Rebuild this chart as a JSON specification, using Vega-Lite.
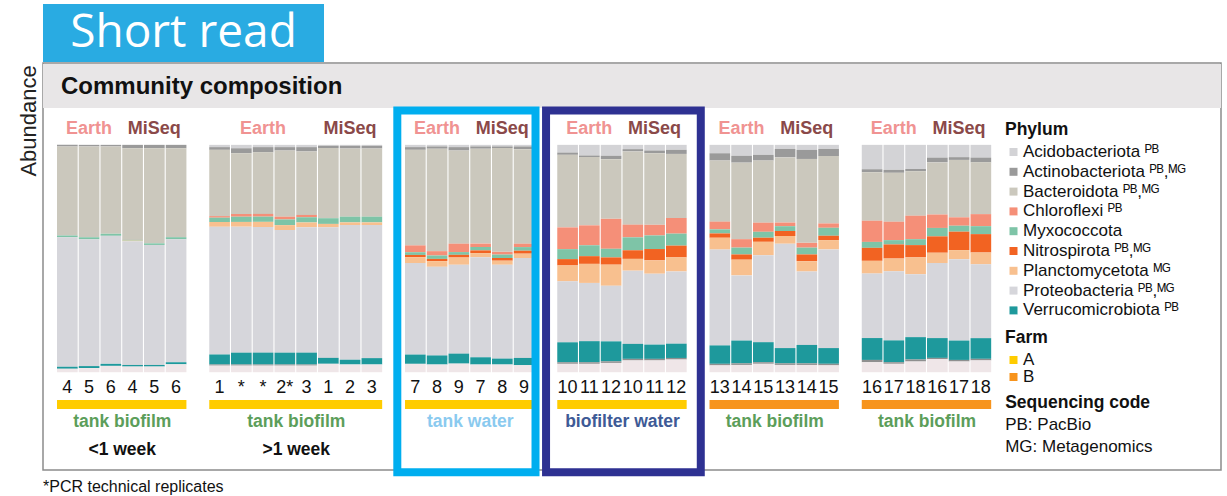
{
  "$schema": "https://vega.github.io/schema/vega-lite/v6.json",
  "padding": {"left": 17, "top": 4, "right": 7, "bottom": 1},
  "bounds": "flush",
  "spacing": 1,
  "config": {
    "font": "Liberation Sans",
    "view": {"stroke": null}
  },
  "datasets": {
    "samples": [
      {"sample": "G1 Earth 4", "group": "G1", "label": "4", "Acidobacteriota": 0, "Actinobacteriota": 0.7, "Bacteroidota": 39.2, "Chloroflexi": 0, "Myxococcota": 0.7, "Nitrospirota": 0, "Planctomycetota": 0, "Proteobacteria": 57.0, "Verrucomicrobiota": 0.9, "other": 0, "unclassified": 1.5},
      {"sample": "G1 Earth 5", "group": "G1", "label": "5", "Acidobacteriota": 0, "Actinobacteriota": 0.7, "Bacteroidota": 39.9, "Chloroflexi": 0, "Myxococcota": 0.9, "Nitrospirota": 0, "Planctomycetota": 0, "Proteobacteria": 55.7, "Verrucomicrobiota": 0.9, "other": 0, "unclassified": 1.8},
      {"sample": "G1 Earth 6", "group": "G1", "label": "6", "Acidobacteriota": 0, "Actinobacteriota": 0.7, "Bacteroidota": 38.5, "Chloroflexi": 0, "Myxococcota": 0.9, "Nitrospirota": 0, "Planctomycetota": 0, "Proteobacteria": 56.4, "Verrucomicrobiota": 0.9, "other": 0, "unclassified": 2.8},
      {"sample": "G1 MiSeq 4", "group": "G1", "label": "4", "Acidobacteriota": 0, "Actinobacteriota": 1.5, "Bacteroidota": 40.4, "Chloroflexi": 0, "Myxococcota": 0.3, "Nitrospirota": 0, "Planctomycetota": 0.3, "Proteobacteria": 54.5, "Verrucomicrobiota": 0.7, "other": 0, "unclassified": 2.5},
      {"sample": "G1 MiSeq 5", "group": "G1", "label": "5", "Acidobacteriota": 0, "Actinobacteriota": 1.5, "Bacteroidota": 41.9, "Chloroflexi": 0, "Myxococcota": 0.7, "Nitrospirota": 0, "Planctomycetota": 0, "Proteobacteria": 52.9, "Verrucomicrobiota": 0.7, "other": 0, "unclassified": 2.5},
      {"sample": "G1 MiSeq 6", "group": "G1", "label": "6", "Acidobacteriota": 0, "Actinobacteriota": 1.5, "Bacteroidota": 39.2, "Chloroflexi": 0, "Myxococcota": 0.9, "Nitrospirota": 0, "Planctomycetota": 0, "Proteobacteria": 54.2, "Verrucomicrobiota": 0.9, "other": 0, "unclassified": 3.5},
      {"sample": "G2 Earth 1", "group": "G2", "label": "1", "Acidobacteriota": 1.0, "Actinobacteriota": 1.2, "Bacteroidota": 29.1, "Chloroflexi": 0.7, "Myxococcota": 1.9, "Nitrospirota": 0, "Planctomycetota": 2.1, "Proteobacteria": 56.1, "Verrucomicrobiota": 4.4, "other": 0.5, "unclassified": 2.9},
      {"sample": "G2 Earth *a", "group": "G2", "label": "*", "Acidobacteriota": 1.5, "Actinobacteriota": 2.2, "Bacteroidota": 26.7, "Chloroflexi": 1.2, "Myxococcota": 2.3, "Nitrospirota": 0, "Planctomycetota": 2.1, "Proteobacteria": 55.4, "Verrucomicrobiota": 5.2, "other": 0.5, "unclassified": 2.9},
      {"sample": "G2 Earth *b", "group": "G2", "label": "*", "Acidobacteriota": 1.0, "Actinobacteriota": 2.3, "Bacteroidota": 27.0, "Chloroflexi": 1.2, "Myxococcota": 2.3, "Nitrospirota": 0, "Planctomycetota": 2.3, "Proteobacteria": 55.1, "Verrucomicrobiota": 5.2, "other": 0.5, "unclassified": 2.9},
      {"sample": "G2 Earth 2*", "group": "G2", "label": "2*", "Acidobacteriota": 1.0, "Actinobacteriota": 1.5, "Bacteroidota": 29.1, "Chloroflexi": 1.2, "Myxococcota": 2.5, "Nitrospirota": 0, "Planctomycetota": 2.2, "Proteobacteria": 53.9, "Verrucomicrobiota": 5.2, "other": 0.5, "unclassified": 2.9},
      {"sample": "G2 Earth 3", "group": "G2", "label": "3", "Acidobacteriota": 1.0, "Actinobacteriota": 1.9, "Bacteroidota": 27.9, "Chloroflexi": 1.0, "Myxococcota": 2.3, "Nitrospirota": 0, "Planctomycetota": 2.1, "Proteobacteria": 55.1, "Verrucomicrobiota": 5.2, "other": 0.5, "unclassified": 2.9},
      {"sample": "G2 MiSeq 1", "group": "G2", "label": "1", "Acidobacteriota": 0.4, "Actinobacteriota": 1.0, "Bacteroidota": 30.8, "Chloroflexi": 0, "Myxococcota": 2.5, "Nitrospirota": 0, "Planctomycetota": 1.5, "Proteobacteria": 57.3, "Verrucomicrobiota": 2.6, "other": 0, "unclassified": 3.7},
      {"sample": "G2 MiSeq 2", "group": "G2", "label": "2", "Acidobacteriota": 0.4, "Actinobacteriota": 1.2, "Bacteroidota": 30.0, "Chloroflexi": 0, "Myxococcota": 2.5, "Nitrospirota": 0, "Planctomycetota": 1.2, "Proteobacteria": 59.2, "Verrucomicrobiota": 2.1, "other": 0, "unclassified": 3.4},
      {"sample": "G2 MiSeq 3", "group": "G2", "label": "3", "Acidobacteriota": 0.4, "Actinobacteriota": 1.2, "Bacteroidota": 30.0, "Chloroflexi": 0, "Myxococcota": 2.5, "Nitrospirota": 0, "Planctomycetota": 1.2, "Proteobacteria": 58.5, "Verrucomicrobiota": 2.8, "other": 0, "unclassified": 3.4},
      {"sample": "G3 Earth 7", "group": "G3", "label": "7", "Acidobacteriota": 1.0, "Actinobacteriota": 1.2, "Bacteroidota": 42.2, "Chloroflexi": 3.0, "Myxococcota": 1.2, "Nitrospirota": 1.0, "Planctomycetota": 2.6, "Proteobacteria": 40.4, "Verrucomicrobiota": 4.1, "other": 0, "unclassified": 3.7},
      {"sample": "G3 Earth 8", "group": "G3", "label": "8", "Acidobacteriota": 0.7, "Actinobacteriota": 1.0, "Bacteroidota": 45.2, "Chloroflexi": 1.9, "Myxococcota": 1.5, "Nitrospirota": 1.0, "Planctomycetota": 2.5, "Proteobacteria": 39.1, "Verrucomicrobiota": 4.0, "other": 0, "unclassified": 3.4},
      {"sample": "G3 Earth 9", "group": "G3", "label": "9", "Acidobacteriota": 1.0, "Actinobacteriota": 1.5, "Bacteroidota": 41.1, "Chloroflexi": 3.7, "Myxococcota": 1.2, "Nitrospirota": 1.2, "Planctomycetota": 3.2, "Proteobacteria": 39.2, "Verrucomicrobiota": 4.4, "other": 0, "unclassified": 3.8},
      {"sample": "G3 MiSeq 7", "group": "G3", "label": "7", "Acidobacteriota": 0.7, "Actinobacteriota": 1.0, "Bacteroidota": 41.9, "Chloroflexi": 1.5, "Myxococcota": 1.5, "Nitrospirota": 1.2, "Planctomycetota": 1.8, "Proteobacteria": 44.2, "Verrucomicrobiota": 3.2, "other": 0, "unclassified": 3.4},
      {"sample": "G3 MiSeq 8", "group": "G3", "label": "8", "Acidobacteriota": 0.7, "Actinobacteriota": 0.7, "Bacteroidota": 45.8, "Chloroflexi": 1.2, "Myxococcota": 1.5, "Nitrospirota": 1.2, "Planctomycetota": 1.8, "Proteobacteria": 41.4, "Verrucomicrobiota": 2.6, "other": 0, "unclassified": 3.4},
      {"sample": "G3 MiSeq 9", "group": "G3", "label": "9", "Acidobacteriota": 0.7, "Actinobacteriota": 1.2, "Bacteroidota": 41.7, "Chloroflexi": 1.5, "Myxococcota": 1.6, "Nitrospirota": 1.3, "Planctomycetota": 1.9, "Proteobacteria": 44.1, "Verrucomicrobiota": 3.2, "other": 0, "unclassified": 3.1},
      {"sample": "G4 Earth 10", "group": "G4", "label": "10", "Acidobacteriota": 3.4, "Actinobacteriota": 1.0, "Bacteroidota": 32.0, "Chloroflexi": 9.6, "Myxococcota": 4.4, "Nitrospirota": 2.8, "Planctomycetota": 7.0, "Proteobacteria": 26.9, "Verrucomicrobiota": 8.8, "other": 0.7, "unclassified": 3.7},
      {"sample": "G4 Earth 11", "group": "G4", "label": "11", "Acidobacteriota": 4.7, "Actinobacteriota": 0.7, "Bacteroidota": 30.1, "Chloroflexi": 8.8, "Myxococcota": 4.8, "Nitrospirota": 3.4, "Planctomycetota": 8.4, "Proteobacteria": 25.7, "Verrucomicrobiota": 9.3, "other": 0.7, "unclassified": 3.7},
      {"sample": "G4 Earth 12", "group": "G4", "label": "12", "Acidobacteriota": 4.8, "Actinobacteriota": 1.5, "Bacteroidota": 26.3, "Chloroflexi": 13.2, "Myxococcota": 3.8, "Nitrospirota": 3.2, "Planctomycetota": 9.3, "Proteobacteria": 24.5, "Verrucomicrobiota": 8.8, "other": 0.7, "unclassified": 4.1},
      {"sample": "G4 MiSeq 10", "group": "G4", "label": "10", "Acidobacteriota": 1.9, "Actinobacteriota": 1.0, "Bacteroidota": 32.3, "Chloroflexi": 5.6, "Myxococcota": 5.7, "Nitrospirota": 3.8, "Planctomycetota": 5.2, "Proteobacteria": 32.3, "Verrucomicrobiota": 6.6, "other": 0.7, "unclassified": 5.2},
      {"sample": "G4 MiSeq 11", "group": "G4", "label": "11", "Acidobacteriota": 2.5, "Actinobacteriota": 1.2, "Bacteroidota": 31.6, "Chloroflexi": 4.7, "Myxococcota": 6.0, "Nitrospirota": 5.0, "Planctomycetota": 5.9, "Proteobacteria": 31.3, "Verrucomicrobiota": 6.3, "other": 0.7, "unclassified": 5.2},
      {"sample": "G4 MiSeq 12", "group": "G4", "label": "12", "Acidobacteriota": 2.2, "Actinobacteriota": 1.8, "Bacteroidota": 28.3, "Chloroflexi": 6.9, "Myxococcota": 5.3, "Nitrospirota": 5.2, "Planctomycetota": 6.2, "Proteobacteria": 31.9, "Verrucomicrobiota": 6.3, "other": 0.7, "unclassified": 5.6},
      {"sample": "G5 Earth 13", "group": "G5", "label": "13", "Acidobacteriota": 3.7, "Actinobacteriota": 3.2, "Bacteroidota": 26.9, "Chloroflexi": 3.4, "Myxococcota": 1.8, "Nitrospirota": 1.9, "Planctomycetota": 5.2, "Proteobacteria": 42.2, "Verrucomicrobiota": 8.1, "other": 0.7, "unclassified": 3.0},
      {"sample": "G5 Earth 14", "group": "G5", "label": "14", "Acidobacteriota": 4.8, "Actinobacteriota": 3.0, "Bacteroidota": 33.6, "Chloroflexi": 3.7, "Myxococcota": 3.0, "Nitrospirota": 2.3, "Planctomycetota": 6.9, "Proteobacteria": 28.6, "Verrucomicrobiota": 10.0, "other": 0.7, "unclassified": 3.2},
      {"sample": "G5 Earth 15", "group": "G5", "label": "15", "Acidobacteriota": 4.4, "Actinobacteriota": 2.5, "Bacteroidota": 27.3, "Chloroflexi": 4.0, "Myxococcota": 2.6, "Nitrospirota": 1.8, "Planctomycetota": 5.9, "Proteobacteria": 38.2, "Verrucomicrobiota": 8.8, "other": 0.7, "unclassified": 3.7},
      {"sample": "G5 MiSeq 13", "group": "G5", "label": "13", "Acidobacteriota": 1.8, "Actinobacteriota": 3.7, "Bacteroidota": 28.6, "Chloroflexi": 1.6, "Myxococcota": 2.1, "Nitrospirota": 2.2, "Planctomycetota": 3.4, "Proteobacteria": 45.8, "Verrucomicrobiota": 6.7, "other": 0.7, "unclassified": 3.2},
      {"sample": "G5 MiSeq 14", "group": "G5", "label": "14", "Acidobacteriota": 2.2, "Actinobacteriota": 4.0, "Bacteroidota": 36.9, "Chloroflexi": 2.1, "Myxococcota": 3.0, "Nitrospirota": 3.0, "Planctomycetota": 4.5, "Proteobacteria": 32.3, "Verrucomicrobiota": 8.1, "other": 0.7, "unclassified": 3.2},
      {"sample": "G5 MiSeq 15", "group": "G5", "label": "15", "Acidobacteriota": 1.8, "Actinobacteriota": 3.1, "Bacteroidota": 29.6, "Chloroflexi": 1.9, "Myxococcota": 3.5, "Nitrospirota": 1.9, "Planctomycetota": 4.1, "Proteobacteria": 43.3, "Verrucomicrobiota": 6.9, "other": 0.7, "unclassified": 3.0},
      {"sample": "G6 Earth 16", "group": "G6", "label": "16", "Acidobacteriota": 10.7, "Actinobacteriota": 1.3, "Bacteroidota": 21.3, "Chloroflexi": 9.3, "Myxococcota": 2.6, "Nitrospirota": 5.7, "Planctomycetota": 5.6, "Proteobacteria": 28.3, "Verrucomicrobiota": 9.6, "other": 1.0, "unclassified": 4.4},
      {"sample": "G6 Earth 17", "group": "G6", "label": "17", "Acidobacteriota": 11.0, "Actinobacteriota": 1.3, "Bacteroidota": 21.5, "Chloroflexi": 8.1, "Myxococcota": 1.9, "Nitrospirota": 6.2, "Planctomycetota": 5.6, "Proteobacteria": 30.4, "Verrucomicrobiota": 9.6, "other": 0.7, "unclassified": 3.7},
      {"sample": "G6 Earth 18", "group": "G6", "label": "18", "Acidobacteriota": 10.6, "Actinobacteriota": 1.0, "Bacteroidota": 19.5, "Chloroflexi": 10.3, "Myxococcota": 2.6, "Nitrospirota": 5.4, "Planctomycetota": 7.4, "Proteobacteria": 27.6, "Verrucomicrobiota": 9.8, "other": 0.9, "unclassified": 4.7},
      {"sample": "G6 MiSeq 16", "group": "G6", "label": "16", "Acidobacteriota": 5.6, "Actinobacteriota": 2.1, "Bacteroidota": 22.9, "Chloroflexi": 5.9, "Myxococcota": 3.7, "Nitrospirota": 7.2, "Planctomycetota": 4.5, "Proteobacteria": 33.0, "Verrucomicrobiota": 8.7, "other": 0.6, "unclassified": 5.7},
      {"sample": "G6 MiSeq 17", "group": "G6", "label": "17", "Acidobacteriota": 5.4, "Actinobacteriota": 1.2, "Bacteroidota": 25.2, "Chloroflexi": 3.7, "Myxococcota": 2.6, "Nitrospirota": 8.1, "Planctomycetota": 4.0, "Proteobacteria": 35.7, "Verrucomicrobiota": 8.5, "other": 0.7, "unclassified": 4.7},
      {"sample": "G6 MiSeq 18", "group": "G6", "label": "18", "Acidobacteriota": 5.6, "Actinobacteriota": 2.1, "Bacteroidota": 22.8, "Chloroflexi": 5.3, "Myxococcota": 3.5, "Nitrospirota": 8.1, "Planctomycetota": 5.2, "Proteobacteria": 32.5, "Verrucomicrobiota": 9.1, "other": 0.7, "unclassified": 5.2}
    ],
    "groups": [
      {"group": "G1", "farm": "A", "habitat": "tank biofilm", "age": "<1 week", "first": "G1 Earth 4", "last": "G1 MiSeq 6", "mid": "G1 MiSeq 4"},
      {"group": "G2", "farm": "A", "habitat": "tank biofilm", "age": ">1 week", "first": "G2 Earth 1", "last": "G2 MiSeq 3", "mid": "G2 Earth 3"},
      {"group": "G3", "farm": "A", "habitat": "tank water", "age": null, "first": "G3 Earth 7", "last": "G3 MiSeq 9", "mid": "G3 MiSeq 7"},
      {"group": "G4", "farm": "A", "habitat": "biofilter water", "age": null, "first": "G4 Earth 10", "last": "G4 MiSeq 12", "mid": "G4 MiSeq 10"},
      {"group": "G5", "farm": "B", "habitat": "tank biofilm", "age": null, "first": "G5 Earth 13", "last": "G5 MiSeq 15", "mid": "G5 MiSeq 13"},
      {"group": "G6", "farm": "B", "habitat": "tank biofilm", "age": null, "first": "G6 Earth 16", "last": "G6 MiSeq 18", "mid": "G6 MiSeq 16"}
    ],
    "headers": [
      {"group": "G1", "method": "Earth", "at": "G1 Earth 5"},
      {"group": "G1", "method": "MiSeq", "at": "G1 MiSeq 5"},
      {"group": "G2", "method": "Earth", "at": "G2 Earth *b"},
      {"group": "G2", "method": "MiSeq", "at": "G2 MiSeq 2"},
      {"group": "G3", "method": "Earth", "at": "G3 Earth 8"},
      {"group": "G3", "method": "MiSeq", "at": "G3 MiSeq 8"},
      {"group": "G4", "method": "Earth", "at": "G4 Earth 11"},
      {"group": "G4", "method": "MiSeq", "at": "G4 MiSeq 11"},
      {"group": "G5", "method": "Earth", "at": "G5 Earth 14"},
      {"group": "G5", "method": "MiSeq", "at": "G5 MiSeq 14"},
      {"group": "G6", "method": "Earth", "at": "G6 Earth 17"},
      {"group": "G6", "method": "MiSeq", "at": "G6 MiSeq 17"}
    ]
  },
  "vconcat": [
    {
      "width": 281,
      "height": 58,
      "view": {"fill": "#29abe2", "stroke": null},
      "data": {"values": [{"panel": "Short read"}]},
      "mark": {"type": "text", "font": "Open Sans", "fontSize": 46, "color": "#ffffff", "align": "center", "baseline": "middle"},
      "encoding": {"text": {"field": "panel"}}
    },
    {
      "width": 1178,
      "height": 407,
      "view": {"stroke": "#8c8c8c", "strokeWidth": 1.5},
      "resolve": {"scale": {"color": "independent"}},
      "layer": [
        {
          "data": {"values": [{"heading": "Community composition"}]},
          "mark": {"type": "rect", "color": "#e8e6e7"},
          "encoding": {
            "y": {"datum": 1.356, "type": "quantitative", "axis": null},
            "y2": {"datum": 1.162}
          }
        },
        {
          "data": {"values": [{"heading": "Community composition"}]},
          "mark": {"type": "text", "align": "left", "baseline": "middle", "fontSize": 24, "fontWeight": "bold", "color": "#111111", "dx": 4},
          "encoding": {
            "x": {"datum": "G1 Earth 4", "bandPosition": 0, "axis": null},
            "y": {"datum": 1.254, "type": "quantitative", "axis": null},
            "text": {"field": "heading"}
          }
        },
        {
          "data": {"name": "samples"},
          "transform": [
            {"fold": ["Acidobacteriota", "Actinobacteriota", "Bacteroidota", "Chloroflexi", "Myxococcota", "Nitrospirota", "Planctomycetota", "Proteobacteria", "Verrucomicrobiota", "other", "unclassified"], "as": ["phylum", "pct"]}
          ],
          "mark": {"type": "bar", "strokeWidth": 0},
          "encoding": {
            "x": {
              "field": "sample",
              "type": "nominal",
              "scale": {
                "type": "band",
                "domain": ["G1 Earth 4", "G1 Earth 5", "G1 Earth 6", "G1 MiSeq 4", "G1 MiSeq 5", "G1 MiSeq 6", "gap 1",
                  "G2 Earth 1", "G2 Earth *a", "G2 Earth *b", "G2 Earth 2*", "G2 Earth 3", "G2 MiSeq 1", "G2 MiSeq 2", "G2 MiSeq 3", "gap 2",
                  "G3 Earth 7", "G3 Earth 8", "G3 Earth 9", "G3 MiSeq 7", "G3 MiSeq 8", "G3 MiSeq 9", "gap 3",
                  "G4 Earth 10", "G4 Earth 11", "G4 Earth 12", "G4 MiSeq 10", "G4 MiSeq 11", "G4 MiSeq 12", "gap 4",
                  "G5 Earth 13", "G5 Earth 14", "G5 Earth 15", "G5 MiSeq 13", "G5 MiSeq 14", "G5 MiSeq 15", "gap 5",
                  "G6 Earth 16", "G6 Earth 17", "G6 Earth 18", "G6 MiSeq 16", "G6 MiSeq 17", "G6 MiSeq 18",
                  "key 1", "key 2", "key 3", "key 4", "key 5", "key 6", "key 7", "key 8", "key 9", "key 10"],
                "paddingInner": 0.05,
                "paddingOuter": 0.605,
                "align": 0.532
              },
              "axis": null
            },
            "y": {
              "field": "pct",
              "type": "quantitative",
              "stack": "normalize",
              "scale": {"domain": [-0.43, 1.36], "nice": false, "zero": false},
              "axis": null
            },
            "color": {
              "field": "phylum",
              "type": "nominal",
              "scale": {
                "domain": ["Acidobacteriota", "Actinobacteriota", "Bacteroidota", "Chloroflexi", "Myxococcota", "Nitrospirota", "Planctomycetota", "Proteobacteria", "Verrucomicrobiota", "other", "unclassified"],
                "range": ["#d3d3d6", "#9a9a9a", "#cbc8bd", "#f58f78", "#7ec4a7", "#f26322", "#f8c08f", "#d6d6db", "#1e999c", "#8f8f8f", "#efe6e8"]
              },
              "legend": {
                "title": "Phylum",
                "orient": "none",
                "legendX": 962,
                "legendY": 58,
                "values": ["Acidobacteriota", "Actinobacteriota", "Bacteroidota", "Chloroflexi", "Myxococcota", "Nitrospirota", "Planctomycetota", "Proteobacteria", "Verrucomicrobiota"],
                "labelExpr": "datum.label + [' ᴾᴮ', ' ᴾᴮ,ᴹᴳ', ' ᴾᴮ,ᴹᴳ', ' ᴾᴮ', '', ' ᴾᴮ,ᴹᴳ', ' ᴹᴳ', ' ᴾᴮ,ᴹᴳ', ' ᴾᴮ'][indexof(['Acidobacteriota', 'Actinobacteriota', 'Bacteroidota', 'Chloroflexi', 'Myxococcota', 'Nitrospirota', 'Planctomycetota', 'Proteobacteria', 'Verrucomicrobiota'], datum.label)]",
                "symbolType": "square",
                "symbolSize": 64,
                "symbolStrokeWidth": 0,
                "labelFontSize": 17,
                "labelColor": "#111111",
                "labelOffset": 1,
                "labelLimit": 300,
                "rowPadding": 1.8,
                "titleFontSize": 17.5,
                "titleFontWeight": "bold",
                "titleColor": "#111111",
                "titlePadding": 5
              }
            },
            "order": {"field": "phylum", "sort": "descending"}
          }
        },
        {
          "data": {"name": "samples"},
          "mark": {"type": "text", "fontSize": 18, "color": "#111111", "baseline": "middle"},
          "encoding": {
            "x": {"field": "sample", "type": "nominal", "axis": null},
            "y": {"datum": -0.068, "type": "quantitative", "axis": null},
            "text": {"field": "label"}
          }
        },
        {
          "data": {"name": "groups"},
          "mark": {"type": "rect"},
          "encoding": {
            "x": {"field": "first", "type": "nominal", "bandPosition": 0, "axis": null},
            "x2": {"field": "last", "bandPosition": 1},
            "y": {"datum": -0.122, "type": "quantitative", "axis": null},
            "y2": {"datum": -0.162},
            "color": {
              "field": "farm",
              "type": "nominal",
              "scale": {"domain": ["A", "B"], "range": ["#ffcc00", "#f7941d"]},
              "legend": {
                "title": "Farm",
                "orient": "none",
                "legendX": 962,
                "legendY": 266,
                "symbolType": "square",
                "symbolSize": 64,
                "symbolStrokeWidth": 0,
                "labelFontSize": 17,
                "labelColor": "#111111",
                "labelOffset": 1,
                "rowPadding": -3.5,
                "titleFontSize": 17.5,
                "titleFontWeight": "bold",
                "titleColor": "#111111",
                "titlePadding": 5
              }
            }
          }
        },
        {
          "data": {"name": "headers"},
          "mark": {"type": "text", "fontSize": 18, "fontWeight": "bold", "baseline": "middle"},
          "encoding": {
            "x": {"field": "at", "type": "nominal", "axis": null},
            "y": {"datum": 1.07, "type": "quantitative", "axis": null},
            "text": {"field": "method"},
            "color": {
              "field": "method",
              "type": "nominal",
              "scale": {"domain": ["Earth", "MiSeq"], "range": ["#f09392", "#8a4949"]},
              "legend": null
            }
          }
        },
        {
          "data": {"name": "groups"},
          "mark": {"type": "text", "fontSize": 17.5, "fontWeight": "bold", "baseline": "middle"},
          "encoding": {
            "x": {"field": "mid", "type": "nominal", "bandPosition": 0, "axis": null},
            "y": {"datum": -0.219, "type": "quantitative", "axis": null},
            "text": {"field": "habitat"},
            "color": {
              "field": "habitat",
              "type": "nominal",
              "scale": {"domain": ["tank biofilm", "tank water", "biofilter water"], "range": ["#5c9e5a", "#8acaef", "#3e5a96"]},
              "legend": null
            }
          }
        },
        {
          "data": {"name": "groups"},
          "transform": [{"filter": {"field": "age", "oneOf": ["<1 week", ">1 week"]}}],
          "mark": {"type": "text", "fontSize": 17.5, "fontWeight": "bold", "baseline": "middle", "color": "#111111"},
          "encoding": {
            "x": {"field": "mid", "type": "nominal", "bandPosition": 0, "axis": null},
            "y": {"datum": -0.34, "type": "quantitative", "axis": null},
            "text": {"field": "age"}
          }
        },
        {
          "data": {"name": "groups"},
          "transform": [{"filter": {"field": "group", "equal": "G3"}}],
          "mark": {"type": "rect", "filled": false, "stroke": "#00aeef", "strokeWidth": 8},
          "encoding": {
            "x": {"datum": "gap 2", "bandPosition": 0.68, "axis": null},
            "x2": {"datum": "gap 3", "bandPosition": 0},
            "y": {"datum": 1.151, "type": "quantitative", "axis": null},
            "y2": {"datum": -0.44}
          }
        },
        {
          "data": {"name": "groups"},
          "transform": [{"filter": {"field": "group", "equal": "G4"}}],
          "mark": {"type": "rect", "filled": false, "stroke": "#2e3192", "strokeWidth": 8},
          "encoding": {
            "x": {"datum": "gap 3", "bandPosition": 0.51, "axis": null},
            "x2": {"datum": "gap 4", "bandPosition": 0.63},
            "y": {"datum": 1.151, "type": "quantitative", "axis": null},
            "y2": {"datum": -0.44}
          }
        },
        {
          "data": {"values": [{"note": "Sequencing code"}]},
          "mark": {"type": "text", "align": "left", "baseline": "middle", "fontSize": 17.5, "fontWeight": "bold", "color": "#111111", "dx": 14},
          "encoding": {
            "x": {"datum": "G6 MiSeq 18", "bandPosition": 1, "axis": null},
            "y": {"datum": -0.135, "type": "quantitative", "axis": null},
            "text": {"field": "note"}
          }
        },
        {
          "data": {"values": [{"note": "PB: PacBio\nMG: Metagenomics"}]},
          "mark": {"type": "text", "align": "left", "baseline": "top", "fontSize": 17, "color": "#111111", "dx": 14, "lineBreak": "\n", "lineHeight": 22},
          "encoding": {
            "x": {"datum": "G6 MiSeq 18", "bandPosition": 1, "axis": null},
            "y": {"datum": -0.197, "type": "quantitative", "axis": null},
            "text": {"field": "note"}
          }
        },
        {
          "data": {"values": [{"note": "Abundance"}]},
          "mark": {"type": "text", "angle": 270, "align": "right", "baseline": "middle", "fontSize": 22, "color": "#222222", "dy": -28},
          "encoding": {
            "x": {"datum": "G1 Earth 4", "bandPosition": 0, "axis": null},
            "y": {"datum": 1.35, "type": "quantitative", "axis": null},
            "text": {"field": "note"}
          }
        },
        {
          "data": {"values": [{"note": "*PCR technical replicates"}]},
          "mark": {"type": "text", "align": "left", "baseline": "middle", "fontSize": 16, "color": "#111111", "dx": -14},
          "encoding": {
            "x": {"datum": "G1 Earth 4", "bandPosition": 0, "axis": null},
            "y": {"datum": -0.505, "type": "quantitative", "axis": null},
            "text": {"field": "note"}
          }
        }
      ]
    }
  ]
}
